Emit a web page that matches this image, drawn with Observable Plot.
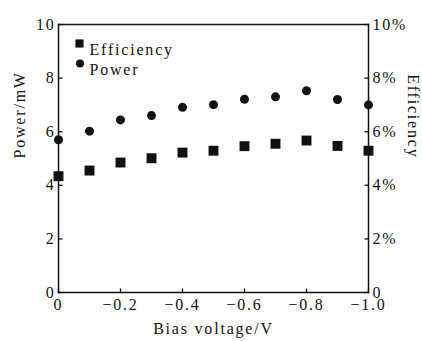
<!DOCTYPE html>
<html>
<head>
<meta charset="utf-8">
<script src="https://cdn.jsdelivr.net/npm/d3@7"></script>
<script src="https://cdn.jsdelivr.net/npm/@observablehq/plot@0.6"></script>
<style>
  html, body { margin: 0; padding: 0; background: #fff; }
</style>
</head>
<body>
<div id="chart"></div>
<script>
const bias = [0, -0.1, -0.2, -0.3, -0.4, -0.5, -0.6, -0.7, -0.8, -0.9, -1.0];
const power = [5.7, 6.02, 6.44, 6.6, 6.91, 7.01, 7.21, 7.3, 7.53, 7.2, 7.0];
const efficiency = [4.34, 4.55, 4.85, 5.01, 5.22, 5.29, 5.46, 5.55, 5.67, 5.47, 5.29];
const xTicks = [0, -0.2, -0.4, -0.6, -0.8, -1.0];
const yTicks = [0, 2, 4, 6, 8, 10];
const xDomain = [0, -1];
const yDomain = [0, 10];
const xLabel = "Bias voltage/V";
const yLeftLabel = "Power/mW";
const yRightLabel = "Efficiency";
const legendLabels = ["Efficiency", "Power"];

const W = 422, H = 341;
const mL = 58, mR = 54, mT = 24, mB = 49;
const plotW = W - mL - mR, plotH = H - mT - mB;
const ink = "#111";
const font = "Liberation Serif, Times New Roman, serif";

const data = bias.map((b, i) => ({bias: b, power: power[i], eff: efficiency[i]}));
const fmtX = d => d === 0 ? "0" : d3.format(".1f")(d);
// inward tick length (4px) in scale units
const tx = 4 * (xDomain[0] - xDomain[1]) / plotW;
const ty = 4 * (yDomain[1] - yDomain[0]) / plotH;
// frame edges built from the scale domains
const [xa, xb] = xDomain, [ya, yb] = yDomain;
const edges = [
  {x1: xa, y1: ya, x2: xb, y2: ya},
  {x1: xb, y1: ya, x2: xb, y2: yb},
  {x1: xb, y1: yb, x2: xa, y2: yb},
  {x1: xa, y1: yb, x2: xa, y2: ya}
];

const chart = Plot.plot({
  width: W, height: H,
  marginLeft: mL, marginRight: mR, marginTop: mT, marginBottom: mB,
  style: {fontFamily: font, fontSize: "16px", letterSpacing: "1.8px", color: ink, background: "#fff"},
  x: {domain: xDomain, axis: null},
  y: {domain: yDomain, axis: null},
  marks: [
    Plot.link(edges, {x1: "x1", y1: "y1", x2: "x2", y2: "y2", stroke: ink, strokeWidth: 1.5, strokeLinecap: "square"}),
    Plot.link(xTicks, {x1: d => d, x2: d => d, y1: ya, y2: ya + ty, stroke: ink, strokeWidth: 1.3}),
    Plot.link(yTicks, {y1: d => d, y2: d => d, x1: xa, x2: xa - tx, stroke: ink, strokeWidth: 1.3}),
    Plot.link(yTicks, {y1: d => d, y2: d => d, x1: xb, x2: xb + tx, stroke: ink, strokeWidth: 1.3}),
    Plot.axisX({ticks: xTicks, tickSize: 0, tickPadding: 6, tickFormat: fmtX, label: null, fontSize: 16, fontFamily: font}),
    Plot.axisY({anchor: "left", ticks: yTicks, tickSize: 0, tickPadding: 3, label: null, fontSize: 16, fontFamily: font}),
    Plot.axisY({anchor: "right", ticks: yTicks, tickSize: 0, tickPadding: 4, tickFormat: d => d === 0 ? "0" : d + "%", label: null, fontSize: 16, fontFamily: font}),
    Plot.dot(data, {x: "bias", y: "power", r: 4.5, fill: ink, stroke: "none"}),
    Plot.dot(data, {x: "bias", y: "eff", symbol: "square", r: 5.6, fill: ink, stroke: "none"}),
    Plot.dot([legendLabels[0]], {frameAnchor: "top-left", dx: 21, dy: 19, symbol: "square", r: 4.6, fill: ink, stroke: "none"}),
    Plot.dot([legendLabels[1]], {frameAnchor: "top-left", dx: 21.5, dy: 39, r: 4, fill: ink, stroke: "none"}),
    Plot.text(legendLabels.slice(0, 1), {frameAnchor: "top-left", text: d => d, dx: 31, dy: 19, textAnchor: "start", fontSize: 16, fontFamily: font, fill: ink}),
    Plot.text(legendLabels.slice(1, 2), {frameAnchor: "top-left", text: d => d, dx: 31, dy: 39, textAnchor: "start", fontSize: 16, fontFamily: font, fill: ink}),
    Plot.text([xLabel], {frameAnchor: "bottom", text: d => d, dy: 41, fontSize: 16, fontFamily: font, fill: ink}),
    Plot.text([yLeftLabel], {frameAnchor: "left", text: d => d, dx: -39, rotate: -90, fontSize: 16, fontFamily: font, fill: ink}),
    Plot.text([yRightLabel], {frameAnchor: "right", text: d => d, dx: 45, rotate: 90, fontSize: 16, fontFamily: font, fill: ink})
  ]
});
document.getElementById("chart").appendChild(chart);
</script>
</body>
</html>
